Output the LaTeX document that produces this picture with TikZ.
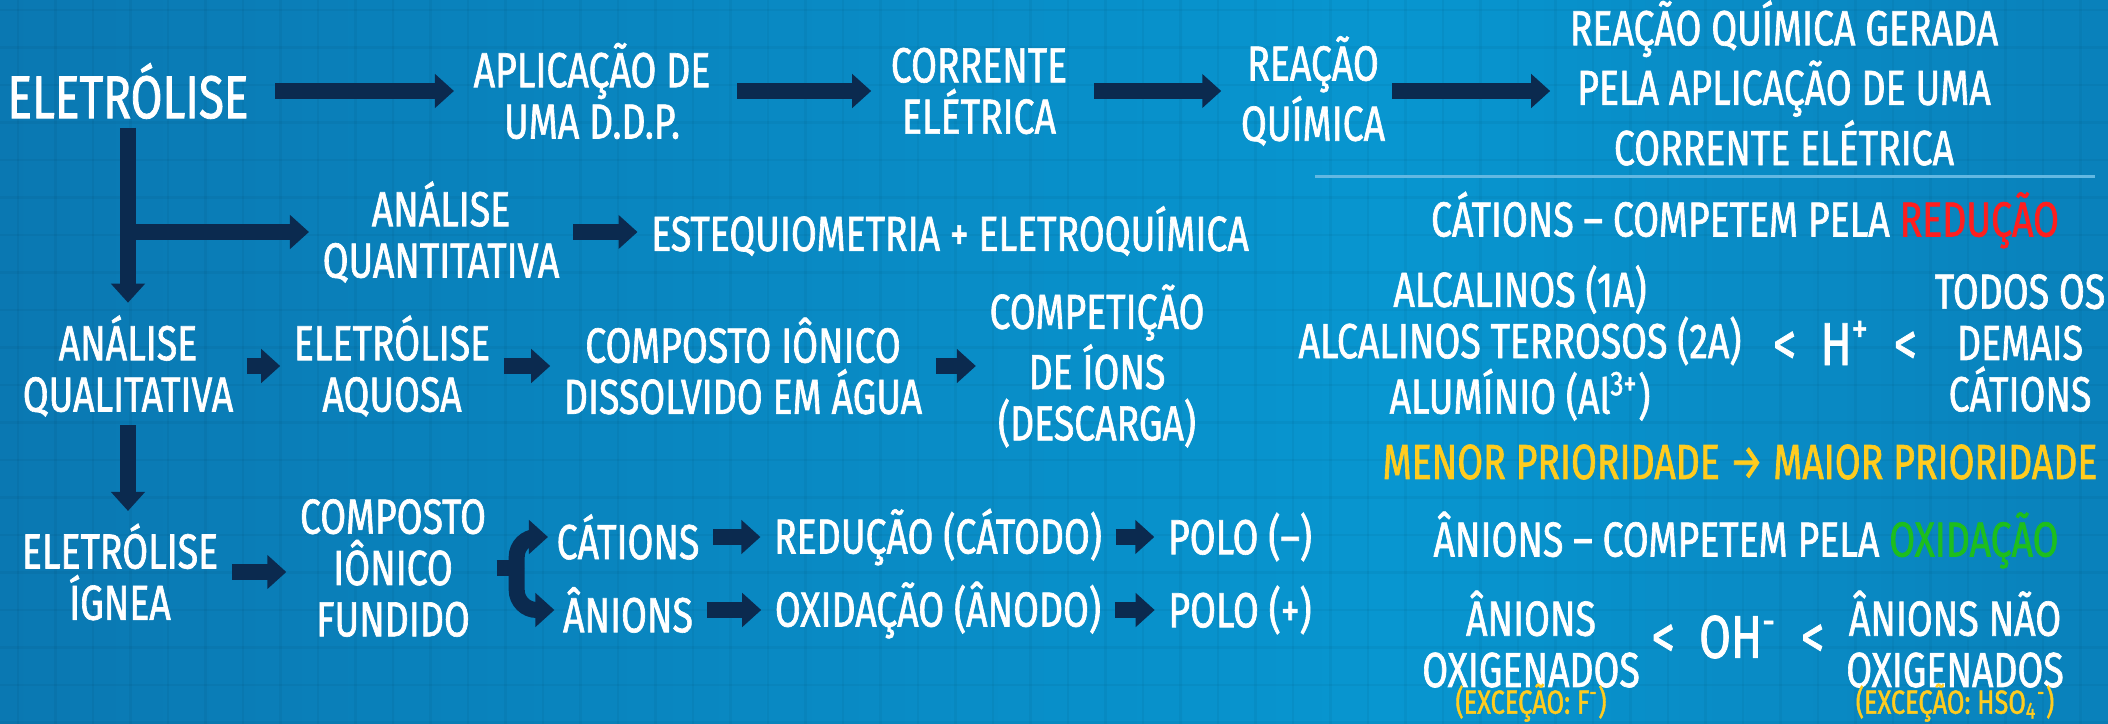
\documentclass[tikz,border=0pt]{standalone}
\usepackage{fontspec}
\setmainfont{Fira Sans}[FakeStretch=0.76,FakeBold=1.3]
\usetikzlibrary{arrows.meta,positioning}

\definecolor{navy}{HTML}{0B2A4F}
\definecolor{bgdark}{HTML}{0B4D7E}
\definecolor{bgmid}{HTML}{0A78B2}
\definecolor{bglight}{HTML}{0896D0}
\definecolor{sepline}{HTML}{62B8E2}
\definecolor{redword}{HTML}{FF1E1E}
\definecolor{greenword}{HTML}{1DBE1D}
\definecolor{yellowword}{HTML}{FFCC1F}
\pgfdeclarehorizontalshading{bgshade}{100bp}{color(0bp)=(bgdark); color(25bp)=(bgmid); color(58bp)=(bglight); color(82bp)=(bgmid); color(100bp)=(bgdark)}

\newcommand{\excecao}[1]{{\fontsize{9.5pt}{10pt}\selectfont\color{yellowword}#1}}

\tikzset{
  lbl/.style={text=white, align=center, inner sep=0pt, font=\fontsize{14pt}{14.6pt}\selectfont},
  biglbl/.style={lbl, font=\fontsize{17.2pt}{18pt}\selectfont},
  arr/.style={draw=navy, line width=1.6mm, -{Triangle[length=1.9mm,width=3.3mm]}, shorten <=1.3mm, shorten >=1.3mm},
  toparr/.style={arr, shorten <=2.6mm, shorten >=1.9mm},
  vert/.style={arr, shorten <=0.8mm, shorten >=1.2mm},
  bar/.style={draw=navy, line width=1.6mm},
  gridline/.style={black, opacity=0.035, line width=0.25mm},
}

\begin{document}
\begin{tikzpicture}[x=0.1mm, y=-0.1mm]
		\useasboundingbox (0,0) rectangle (2108,724);
		\fill[shading=bgshade] (0,0) rectangle (2108,724);
		\foreach \gx in {18,55.5,...,2108} \draw[gridline] (\gx,0) -- (\gx,724);
		\foreach \gy in {10,47.5,...,724} \draw[gridline] (0,\gy) -- (2108,\gy);

		% top row
		\node[biglbl] (elet) at (128,91) {ELETRÓLISE};
		\node[lbl] (aplic) at (592,91) {APLICAÇÃO DE\\UMA D.D.P.};
		\node[lbl] (corr) at (979,91) {CORRENTE\\ELÉTRICA};
		\node[lbl] (reac) at (1313,91) {REAÇÃO\\QUÍMICA};
		\node[lbl] (defin) at (1784,83) {REAÇÃO QUÍMICA GERADA\\PELA APLICAÇÃO DE UMA\\CORRENTE ELÉTRICA};
		\draw[toparr] (elet) -- (aplic);
		\draw[toparr] (aplic) -- (corr);
		\draw[toparr] (corr) -- (reac);
		\draw[toparr, shorten <=0.6mm] (reac) -- (defin.west |- reac);

		% quantitativa
		\node[lbl] (quanti) at (441,232) {ANÁLISE\\QUANTITATIVA};
		\node[lbl] (esteq) at (950,231) {ESTEQUIOMETRIA + ELETROQUÍMICA};
		\draw[arr, shorten <=0pt] (elet |- quanti) -- (quanti);
		\draw[arr] (quanti.east) -- (quanti.east -| esteq.west);

		% qualitativa
		\node[lbl] (quali) at (128,366) {ANÁLISE\\QUALITATIVA};
		\node[lbl] (aquosa) at (392,366) {ELETRÓLISE\\AQUOSA};
		\node[lbl] (dissol) at (743,366) {COMPOSTO IÔNICO\\DISSOLVIDO EM ÁGUA};
		\node[lbl] (compet) at (1097,366) {COMPETIÇÃO\\DE ÍONS\\(DESCARGA)};
		\draw[vert] (elet) -- (elet |- quali.north);
		\draw[arr] (quali) -- (aquosa);
		\draw[arr] (aquosa) -- (dissol);
		\draw[arr] (dissol) -- (compet);

		% ignea
		\node[lbl] (ignea) at (120,572) {ELETRÓLISE\\ÍGNEA};
		\node[lbl] (fund) at (393,568) {COMPOSTO\\IÔNICO\\FUNDIDO};
		\node[lbl] (cat) at (628,537) {CÁTIONS};
		\node[lbl] (redu) at (938,537) {REDUÇÃO (CÁTODO)};
		\node[lbl] (polneg) at (1240,537) {POLO (–)};
		\node[lbl] (ani) at (628,610) {ÂNIONS};
		\node[lbl] (oxid) at (938,610) {OXIDAÇÃO (ÂNODO)};
		\node[lbl] (polpos) at (1240,610) {POLO (+)};
		\draw[vert] (quali.south -| elet) -- (elet |- ignea.north);
		\draw[arr] (ignea.east) -- (ignea.east -| fund.west);
		\coordinate[right=3mm of fund.east] (fork);
		\draw[bar] ([xshift=1mm]fund.east) -- (fork);
		\draw[arr, rounded corners=2mm, shorten <=0pt, shorten >=0.8mm] (fork) |- (cat.west);
		\draw[arr, rounded corners=2mm, shorten <=0pt, shorten >=0.8mm] (fork) |- (ani.west);
		\draw[arr] (cat) -- (redu);
		\draw[arr] (redu) -- (polneg);
		\draw[arr] (ani) -- (oxid);
		\draw[arr] (oxid) -- (polpos);

		% right side
		\draw[sepline, line width=0.3mm] (1315,177) -- (2095,177);
		\node[lbl] (cathead) at (1745,220) {CÁTIONS – COMPETEM PELA \textcolor{redword}{REDUÇÃO}};
		\node[lbl] (alcal) at (1520,343) {ALCALINOS (1A)\\ALCALINOS TERROSOS (2A)\\ALUMÍNIO (Al\textsuperscript{3+})};
		\node[biglbl] (hplus) at (1845,343) {<\ \ H\textsuperscript{+}\ \ <};
		\node[lbl] (demais) at (2020,343) {TODOS OS\\DEMAIS\\CÁTIONS};
		\node[lbl, text=yellowword] (prior) at (1740,462) {MENOR PRIORIDADE → MAIOR PRIORIDADE};
		\node[lbl] (anihead) at (1746,540) {ÂNIONS – COMPETEM PELA \textcolor{greenword}{OXIDAÇÃO}};
		\node[lbl, anchor=north] (oxig) at (1531,590) {ÂNIONS\\OXIGENADOS\\[-7pt]\excecao{(EXCEÇÃO: F\textsuperscript{-})}};
		\node[biglbl] (ohminus) at (1738,637) {<\ \ OH\textsuperscript{-}\ \ <};
		\node[lbl, anchor=north] (naooxig) at (1955,590) {ÂNIONS NÃO\\OXIGENADOS\\[-7pt]\excecao{(EXCEÇÃO: HSO\textsubscript{4}\textsuperscript{-})}};
\end{tikzpicture}
\end{document}
